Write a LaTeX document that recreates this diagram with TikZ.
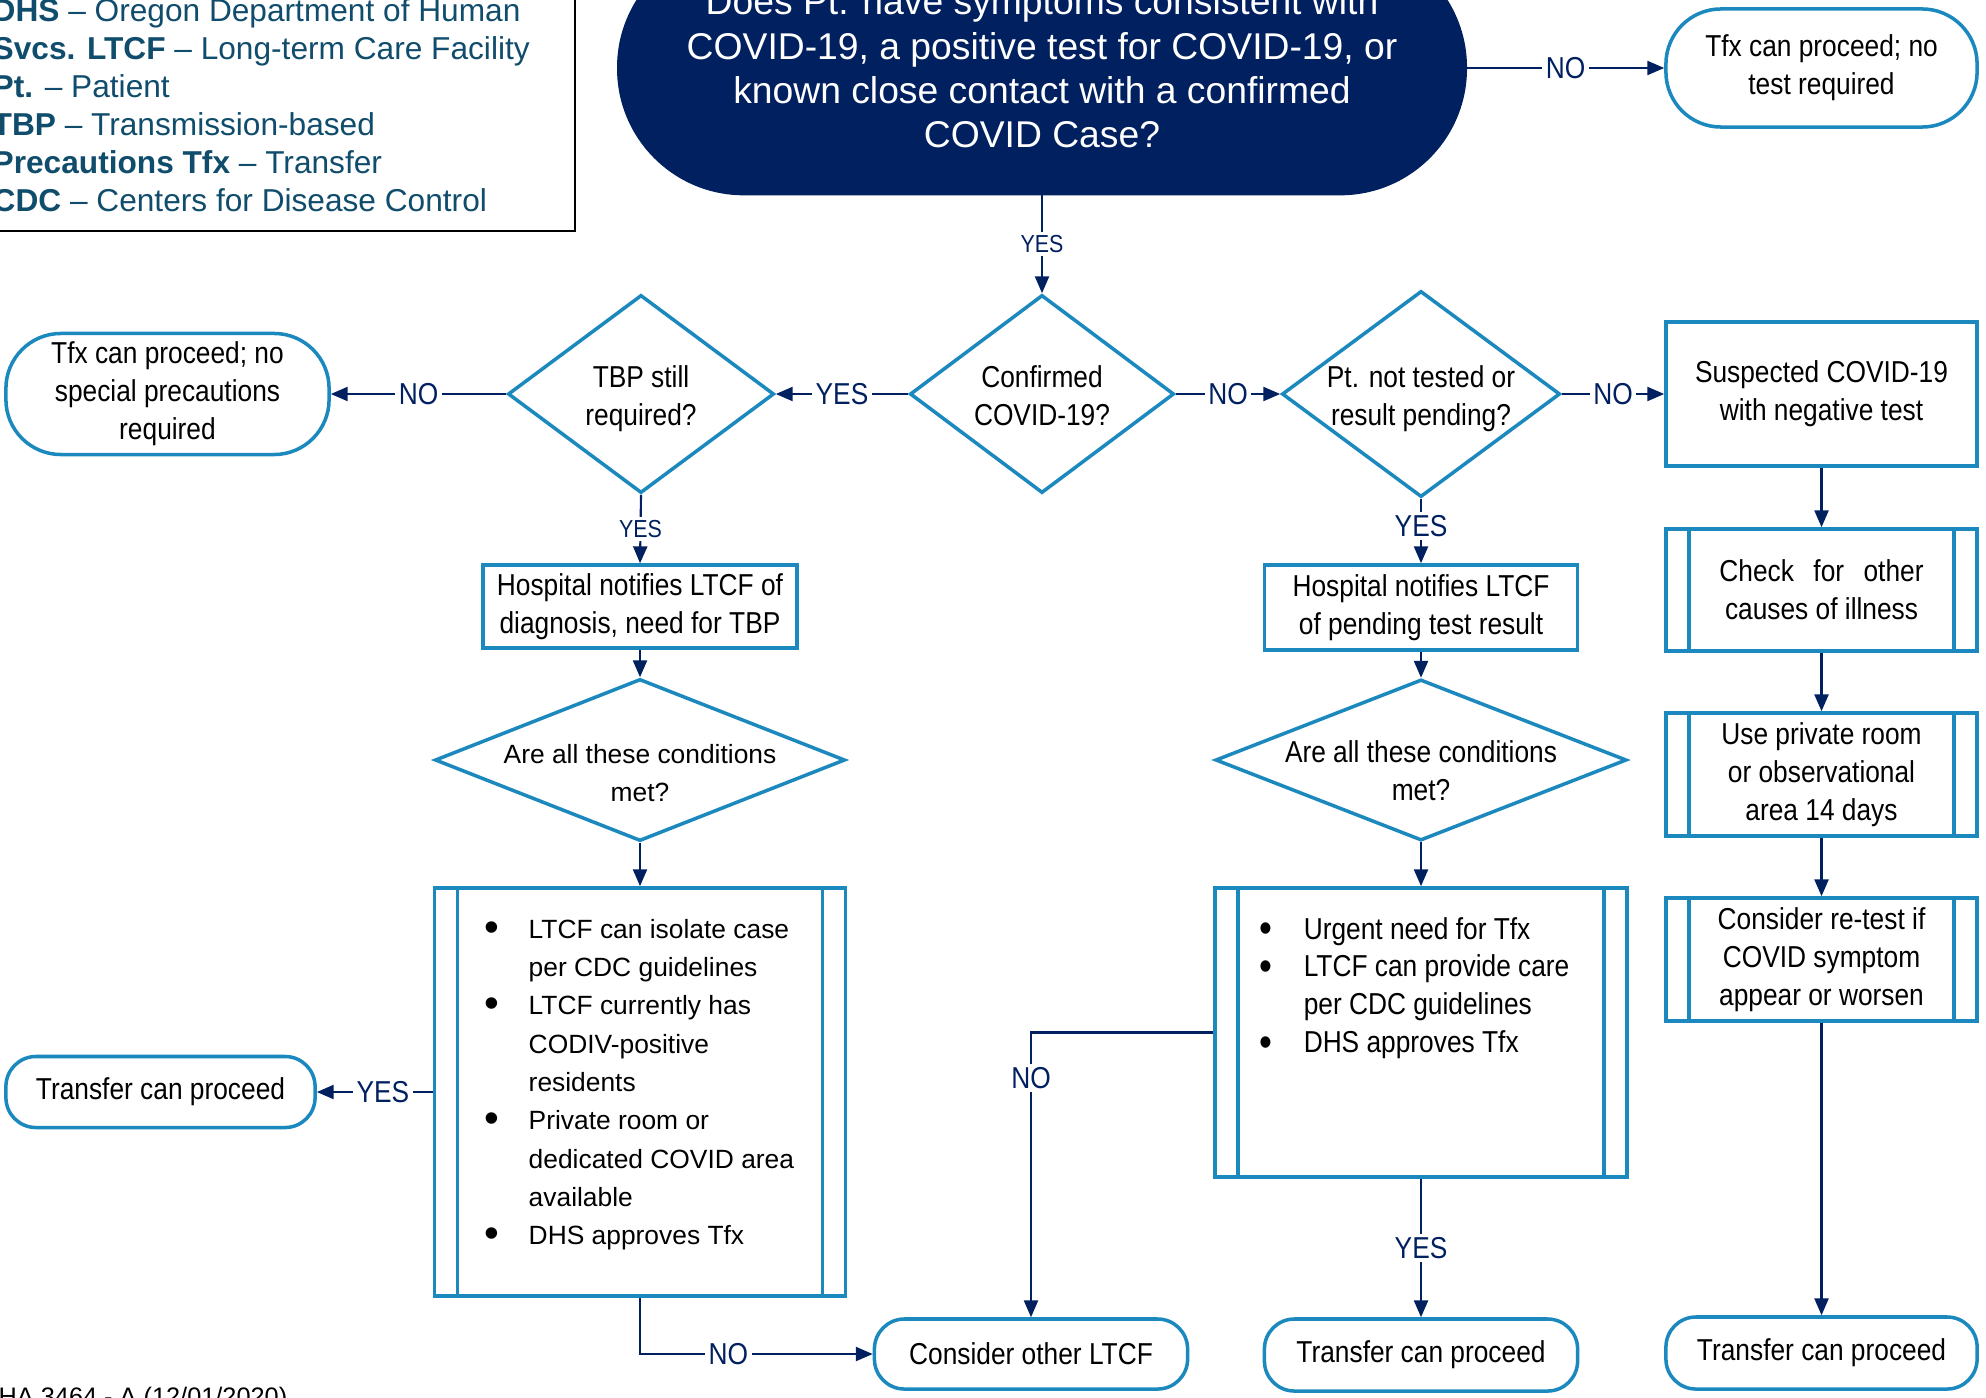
\documentclass[tikz,border=0pt]{standalone}
\usepackage{fontspec}
\setmainfont{Liberation Sans}
\newfontfamily\narrowfont[FakeStretch=0.87]{Liberation Sans}
\usetikzlibrary{shapes.geometric,arrows.meta}
\definecolor{navy}{RGB}{0,32,96}
\definecolor{boxblue}{RGB}{28,137,190}
\definecolor{legtext}{RGB}{16,76,108}
\newcommand{\nfont}{\narrowfont\fontsize{8.6}{10.8}\selectfont}
\newcommand{\afont}{\fontsize{7.5}{10.9}\selectfont}
\newcommand{\lblfont}{\narrowfont\fontsize{8.6}{10}\selectfont}
\newcommand{\slblfont}{\narrowfont\fontsize{7}{8}\selectfont}
\newcommand{\topfont}{\fontsize{10.6}{12.6}\selectfont}
\newcommand{\legfont}{\fontsize{9}{10.8}\selectfont}
\newcommand{\dtxt}[2][1.2pt]{\smash{\makebox[0pt]{\raisebox{\dimexpr-.25em-#1\relax}{\begin{tabular}{@{}c@{}}#2\end{tabular}}}}}
\newcommand{\blt}{\raisebox{-.9pt}{\fontsize{12}{12}\selectfont\textbullet}}

\begin{document}
\begin{tikzpicture}[x=0.01cm, y=-0.01cm,
	arr/.style={navy, line width=.6pt, -{Triangle[length=4.8pt,width=4pt]}},
	lbl/.style={fill=white, text=navy, font=\lblfont, inner sep=1pt},
	slbl/.style={lbl, font=\slblfont},
	box/.style={rectangle, draw=boxblue, line width=1pt, fill=white, align=center, font=\nfont, inner sep=0pt},
	term/.style={box, rounded corners=#1},
	dec/.style={diamond, draw=boxblue, line width=1pt, fill=white, inner sep=0pt, font=\nfont},
	proc/.style={box, path picture={
		\draw[boxblue, line width=1pt] ([xshift=.23cm]path picture bounding box.north west) -- ([xshift=.23cm]path picture bounding box.south west);
		\draw[boxblue, line width=1pt] ([xshift=-.23cm]path picture bounding box.north east) -- ([xshift=-.23cm]path picture bounding box.south east);}}]
		\useasboundingbox (0,0) rectangle (1986,1397);
		\clip (0,0) rectangle (1986,1397);
		\draw[line width=.7pt] (-10,-10) rectangle (575,231);
		\node[anchor=base west, font=\legfont, text=legtext, inner sep=0pt] (legend) at (-8,21.5) {\begin{tabular}[t]{@{}l@{}}
			\textbf{DHS} – Oregon Department of Human\\
			\textbf{Svcs. LTCF} – Long-term Care Facility\\
			\textbf{Pt.} – Patient\\
			\textbf{TBP} – Transmission-based\\
			\textbf{Precautions Tfx} – Transfer\\
			\textbf{CDC} – Centers for Disease Control
		\end{tabular}};
		\node[anchor=base west, font=\fontsize{7.2}{8}\selectfont, inner sep=0pt] (formno) at (-2,1405) {HA 3464 - A (12/01/2020)};
		\node[box, fill=navy, draw=navy, text=white, font=\topfont, rounded corners=1.25cm, minimum width=8.46cm, minimum height=2.51cm] (sympt) at (1042,68) {Does Pt. have symptoms consistent with\\COVID-19, a positive test for COVID-19, or\\known close contact with a confirmed\\COVID Case?};
		\node[term=.55cm, minimum width=3.11cm, minimum height=1.18cm] (notest) at (1821.5,68) {Tfx can proceed; no\\test required};
		\node[term=.55cm, minimum width=3.23cm, minimum height=1.21cm] (noprec) at (167.5,394) {Tfx can proceed; no\\special precautions\\required};
		\node[dec, minimum width=2.64cm, minimum height=1.98cm] (conf) at (1042,394) {\dtxt[1.6pt]{Confirmed\\COVID-19?}};
		\node[dec, minimum width=2.66cm, minimum height=1.98cm] (tbp) at (641,394) {\dtxt[1.6pt]{TBP still\\required?}};
		\node[dec, minimum width=2.78cm, minimum height=2.06cm] (pend) at (1421,394) {\dtxt[1.6pt]{Pt. not tested or\\result pending?}};
		\node[box, minimum width=3.11cm, minimum height=1.44cm] (susp) at (1821.5,394) {Suspected COVID-19\\with negative test};
		\node[proc, minimum width=3.11cm, minimum height=1.22cm] (check) at (1821.5,590) {\makebox[2.04cm][s]{Check for other}\\causes of illness};
		\node[proc, minimum width=3.11cm, minimum height=1.23cm] (room) at (1821.5,774.5) {Use private room\\or observational\\area 14 days};
		\node[proc, minimum width=3.11cm, minimum height=1.23cm] (retest) at (1821.5,959.5) {Consider re-test if\\COVID symptom\\appear or worsen};
		\node[term=.3cm, minimum width=3.11cm, minimum height=.72cm] (tfxR) at (1821.5,1353) {Transfer can proceed};
		\node[box, minimum width=3.14cm, minimum height=.83cm] (hospL) at (640,606.5) {Hospital notifies LTCF of\\diagnosis, need for TBP};
		\node[dec, font=\afont, minimum width=4.1cm, minimum height=1.62cm] (condL) at (640,760) {\dtxt[4pt]{Are all these conditions\\met?}};
		\node[proc, minimum width=4.11cm, minimum height=4.08cm] (listL) at (640,1092) {};
		\node[anchor=base west, font=\afont, inner sep=0pt] (listLtxt) at (484,938) {\begin{tabular}[t]{@{}p{.44cm}@{}l@{}}
			\blt & LTCF can isolate case\\
			 & per CDC guidelines\\
			\blt & LTCF currently has\\
			 & CODIV-positive\\
			 & residents\\
			\blt & Private room or\\
			 & dedicated COVID area\\
			 & available\\
			\blt & DHS approves Tfx
		\end{tabular}};
		\node[term=.3cm, minimum width=3.09cm, minimum height=.71cm] (tfxL) at (160.5,1092) {Transfer can proceed};
		\node[term=.3cm, minimum width=3.13cm, minimum height=.70cm] (other) at (1031,1354) {Consider other LTCF};
		\node[box, minimum width=3.13cm, minimum height=.85cm] (hospR) at (1421,607.5) {Hospital notifies LTCF\\of pending test result};
		\node[dec, minimum width=4.11cm, minimum height=1.61cm] (condR) at (1421,760) {\dtxt[4pt]{Are all these conditions\\met?}};
		\node[proc, minimum width=4.12cm, minimum height=2.89cm] (listR) at (1421,1032.5) {};
		\node[anchor=base west, font=\nfont, inner sep=0pt] (listRtxt) at (1259,939) {\begin{tabular}[t]{@{}p{.44cm}@{}l@{}}
			\blt & Urgent need for Tfx\\
			\blt & LTCF can provide care\\
			 & per CDC guidelines\\
			\blt & DHS approves Tfx
		\end{tabular}};
		\node[term=.3cm, minimum width=3.13cm, minimum height=.72cm] (tfxM) at (1421,1355) {Transfer can proceed};
		\draw[arr] (sympt.south) -- node[slbl] {YES} (conf.north);
		\draw[arr] (sympt.east) -- node[lbl] {NO} (notest.west);
		\draw[arr] (conf.west) -- node[lbl] {YES} (tbp.east);
		\draw[arr] (tbp.west) -- node[lbl] {NO} (noprec.east);
		\draw[arr] (conf.east) -- node[lbl] {NO} (pend.west);
		\draw[arr] (pend.east) -- node[lbl] {NO} (susp.west);
		\draw[arr] (tbp.south) -- node[slbl] {YES} (hospL.north);
		\draw[arr] (hospL.south) -- (condL.north);
		\draw[arr] (condL.south) -- (listL.north);
		\draw[arr] (listL.west) -- node[lbl, pos=.43] {YES} (tfxL.east);
		\draw[arr] (listL.south) |- node[lbl, pos=.69] {NO} (other.west);
		\draw[arr] (pend.south) -- node[lbl, pos=.42] {YES} (hospR.north);
		\draw[arr] (hospR.south) -- (condR.north);
		\draw[arr] (condR.south) -- (listR.north);
		\draw[arr] (listR.west) -| node[lbl, pos=.58] {NO} (other.north);
		\draw[arr] (listR.south) -- node[lbl] {YES} (tfxM.north);
		\draw[arr] (susp.south) -- (check.north);
		\draw[arr] (check.south) -- (room.north);
		\draw[arr] (room.south) -- (retest.north);
		\draw[arr] (retest.south) -- (tfxR.north);
		\end{tikzpicture}
\end{document}
